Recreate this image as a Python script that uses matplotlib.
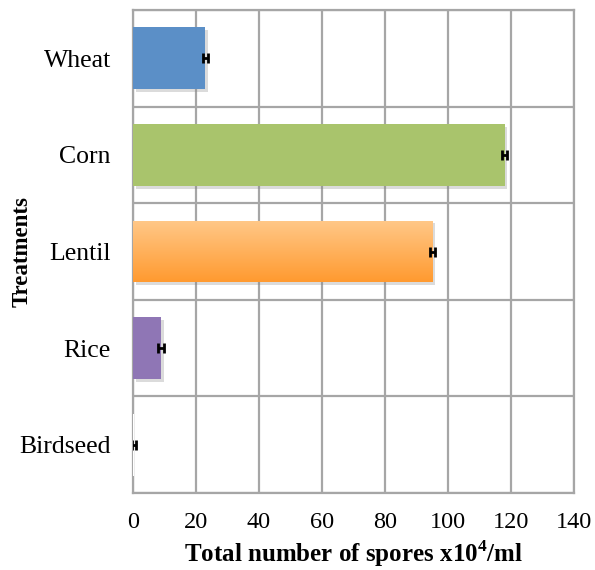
import matplotlib
matplotlib.use("Agg")
import matplotlib.pyplot as plt
import matplotlib.patheffects as pe
import numpy as np

treatments = ["Wheat", "Corn", "Lentil", "Rice", "Birdseed"]
spores = [23, 118, 95, 9, 0.3]
errors = [0.8, 0.8, 0.8, 0.9, 0.7]
colors = ["#5B8FC7", "#A9C46C", "#FFA850", "#8F76B5", "#FFFFFF"]

plt.rcParams["font.family"] = ["Liberation Serif", "DejaVu Serif"]
plt.rcParams["mathtext.fontset"] = "custom"
plt.rcParams["mathtext.rm"] = "Liberation Serif"
plt.rcParams["mathtext.bf"] = "Liberation Serif:bold"

fig = plt.figure(figsize=(5.95, 5.7), dpi=100)
ax = fig.add_axes([0.2235, 0.135, 0.7412, 0.8475])

y = np.arange(len(treatments))
shadow = [pe.SimplePatchShadow(offset=(2, -2), shadow_rgbFace="#888888", alpha=0.3), pe.Normal()]
bars = ax.barh(y, spores, height=0.64, color=colors, zorder=3)
for b in bars[:-1]:
    b.set_path_effects(shadow)

# orange gradient fill on the lentil bar
lb = bars[2]
grad = np.linspace(0, 1, 100).reshape(-1, 1)
cmap = matplotlib.colors.LinearSegmentedColormap.from_list("lent", ["#FFC888", "#FF9A30"])
x0, yb = lb.get_x(), lb.get_y()
im = ax.imshow(grad, cmap=cmap, aspect="auto", zorder=3.5,
               extent=[x0, x0 + lb.get_width(), yb + lb.get_height(), yb])
im.set_clip_path(lb)

ax.errorbar(spores, y, xerr=errors, fmt="none", ecolor="black", elinewidth=2,
            capsize=3.5, capthick=2, zorder=4)

ax.set_xlim(0, 140)
ax.set_ylim(len(treatments) - 0.5, -0.5)
ax.set_xticks(np.arange(0, 141, 20))
ax.set_yticks(y)
ax.set_yticklabels(treatments)
ax.set_yticks(np.arange(-0.5, len(treatments), 1), minor=True)
ax.tick_params(axis="both", which="both", length=0)
ax.tick_params(axis="x", labelsize=17.5, pad=14)
ax.tick_params(axis="y", labelsize=18.5, pad=16)

ax.grid(axis="x", which="major", color="#A6A6A6", linewidth=1.6, zorder=0)
ax.grid(axis="y", which="minor", color="#A6A6A6", linewidth=1.6, zorder=0)
ax.grid(axis="y", which="major", visible=False)
for s in ax.spines.values():
    s.set_color("#A6A6A6")
    s.set_linewidth(1.6)

ax.set_xlabel("Total number of spores x10$^\\mathbf{4}$/ml", fontsize=18, fontweight="bold")
ax.xaxis.set_label_coords(0.5, -0.093)
ax.set_ylabel("Treatments", fontsize=16.5, fontweight="bold")
ax.yaxis.set_label_coords(-0.227, 0.5)

fig.savefig("out.png", dpi=100)
